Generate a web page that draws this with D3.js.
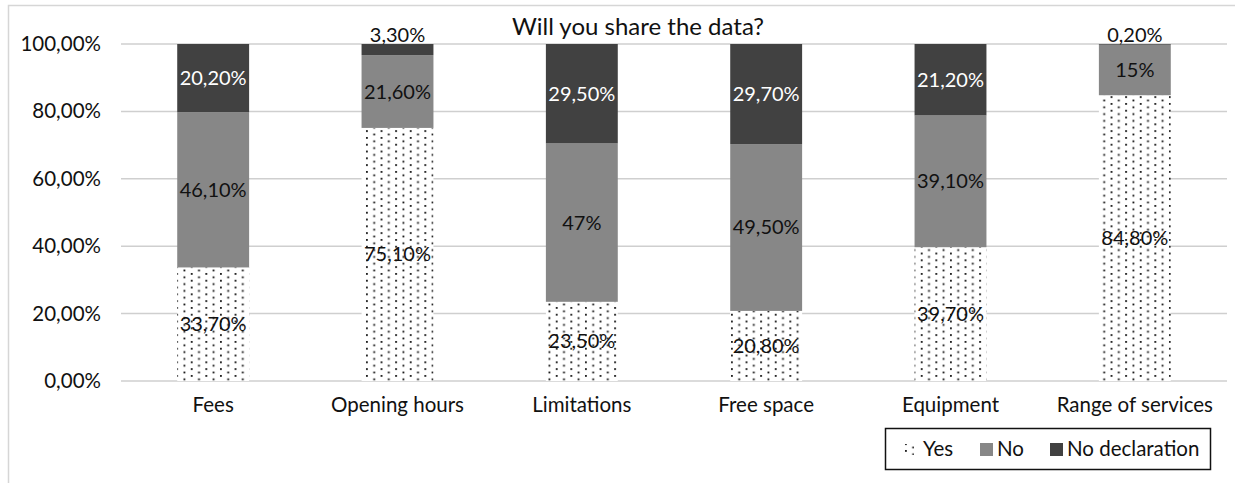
<!DOCTYPE html>
<html>
<head>
<meta charset="utf-8">
<script src="https://cdn.jsdelivr.net/npm/d3@7"></script>
<style>
  body { margin: 0; background: #fff; }
  svg { display: block; font-family: Lato, "Open Sans", sans-serif; }
</style>
</head>
<body>
<svg id="chart" width="1235" height="483"></svg>
<script>
// Will you share the data? -- stacked 100% columns
const categories = ['Fees', 'Opening hours', 'Limitations', 'Free space', 'Equipment', 'Range of services'];
const seriesNames = ['Yes', 'No', 'No declaration'];
const yesValues = [33.7, 75.1, 23.5, 20.8, 39.7, 84.8];
const noValues = [46.1, 21.6, 47, 49.5, 39.1, 15];
const noDeclValues = [20.2, 3.3, 29.5, 29.7, 21.2, 0.2];
const yTicks = [0, 20, 40, 60, 80, 100];

const WIDTH = 1235, HEIGHT = 483;
const MARGIN = { left: 121, right: 8, top: 44, bottom: 102 };
const COLORS = { 'No': '#878787', 'No declaration': '#414141' };
const FONT = 20.5;

const svg = d3.select('#chart');

// dotted fill for "Yes" (sheared lattice of small dots)
const pat = svg.append('defs').append('pattern')
    .attr('id', 'dots')
    .attr('patternUnits', 'userSpaceOnUse')
    .attr('width', 14.6).attr('height', 6.8);
pat.append('rect').attr('width', 14.6).attr('height', 6.8).attr('fill', '#fff');
pat.append('rect').attr('x', 1).attr('y', 1).attr('width', 1.8).attr('height', 1.8).attr('fill', '#111');
pat.append('rect').attr('x', 8.3).attr('y', 4.4).attr('width', 1.8).attr('height', 1.8).attr('fill', '#111');

const fillFor = s => s === 'Yes' ? 'url(#dots)' : COLORS[s];

// chart frame (cropped on right/bottom)
svg.append('path')
    .attr('d', `M8.5,${HEIGHT} L8.5,5.5 L${WIDTH},5.5`)
    .attr('fill', 'none').attr('stroke', '#d6d6d6').attr('stroke-width', 1.5);

const table = categories.map((c, i) => ({
    cat: c, 'Yes': yesValues[i], 'No': noValues[i], 'No declaration': noDeclValues[i]
}));
const stacked = d3.stack().keys(seriesNames)(table);

const xScale = d3.scaleBand()
    .domain(categories)
    .range([MARGIN.left, WIDTH - MARGIN.right])
    .paddingInner(0.61)
    .paddingOuter(0.305);
const yScale = d3.scaleLinear()
    .domain([0, 100])
    .range([HEIGHT - MARGIN.bottom, MARGIN.top]);

// gridlines
svg.append('g').selectAll('line')
    .data(yTicks)
    .join('line')
    .attr('x1', MARGIN.left).attr('x2', WIDTH - MARGIN.right)
    .attr('y1', d => yScale(d)).attr('y2', d => yScale(d))
    .attr('stroke', '#cfcfcf').attr('stroke-width', 1.5);

// y axis labels
const yAxis = svg.append('g')
    .attr('transform', `translate(${MARGIN.left - 20},0)`)
    .call(d3.axisLeft(yScale).tickValues(yTicks).tickSize(0).tickPadding(0)
        .tickFormat(d => d.toFixed(2).replace('.', ',') + '%'));
yAxis.select('.domain').remove();
yAxis.selectAll('text').attr('font-size', FONT).attr('fill', '#111').attr('font-family', 'Lato, sans-serif');

// x axis labels
const xAxis = svg.append('g')
    .attr('transform', `translate(0,${yScale(0)})`)
    .call(d3.axisBottom(xScale).tickSize(0).tickPadding(16));
xAxis.select('.domain').remove();
xAxis.selectAll('text').attr('font-size', FONT).attr('fill', '#111').attr('font-family', 'Lato, sans-serif');

// bars
const layers = svg.append('g').selectAll('g')
    .data(stacked)
    .join('g')
    .attr('fill', d => fillFor(d.key));
layers.selectAll('rect')
    .data(d => d)
    .join('rect')
    .attr('x', d => xScale(d.data.cat))
    .attr('width', xScale.bandwidth())
    .attr('y', d => yScale(d[1]))
    .attr('height', d => yScale(d[0]) - yScale(d[1]));

// value labels
const fmt = v => Number.isInteger(v) ? v + '%' : v.toFixed(2).replace('.', ',') + '%';
const labels = [];
stacked.forEach(layer => layer.forEach(d => {
    const v = d[1] - d[0];
    const small = v < 5;
    labels.push({
        x: xScale(d.data.cat) + xScale.bandwidth() / 2,
        y: small ? yScale(100) - 9 : yScale((d[0] + d[1]) / 2),
        text: fmt(+v.toFixed(1)),
        color: (layer.key === 'No declaration' && !small) ? '#fff' : '#111'
    });
}));
svg.append('g').selectAll('text')
    .data(labels)
    .join('text')
    .attr('x', d => d.x).attr('y', d => d.y)
    .attr('dy', '0.35em')
    .attr('text-anchor', 'middle')
    .attr('font-size', 20)
    .attr('fill', d => d.color)
    .text(d => d.text);

// title
svg.append('text')
    .attr('x', 638).attr('y', 27)
    .attr('dy', '0.35em')
    .attr('text-anchor', 'middle')
    .attr('font-size', 24)
    .attr('fill', '#111')
    .text('Will you share the data?');

// legend
const legend = svg.append('g');
legend.append('rect')
    .attr('x', 885.5).attr('y', 428.5).attr('width', 325).attr('height', 41)
    .attr('fill', '#fff').attr('stroke', '#111').attr('stroke-width', 1.5);
const legendX = [904, 980, 1050];
seriesNames.forEach((s, i) => {
    const g = legend.append('g').attr('transform', `translate(${legendX[i]},449)`);
    if (s === 'Yes') {
        g.append('rect').attr('x', 0).attr('y', -5).attr('width', 10).attr('height', 11).attr('fill', 'url(#dots)');
        g.append('text').attr('x', 19).attr('y', 0).attr('dy', '0.35em')
            .attr('font-size', FONT).attr('fill', '#111').text(s);
    } else {
        g.append('rect').attr('x', 0).attr('y', -6).attr('width', 13).attr('height', 13).attr('fill', COLORS[s]);
        g.append('text').attr('x', 17).attr('y', 0).attr('dy', '0.35em')
            .attr('font-size', FONT).attr('fill', '#111').text(s);
    }
});
</script>
</body>
</html>
